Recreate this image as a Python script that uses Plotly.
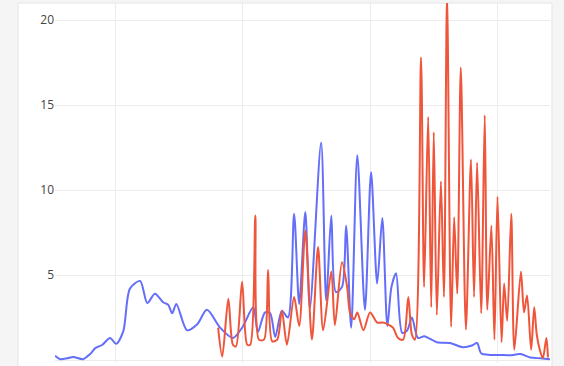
import plotly.graph_objects as go

# Blue series: week index and value
blue_x = [13.2, 14.2, 15.6, 16.8, 18.7, 20.1, 21.1, 22.5, 24.0, 25.2, 26.6, 27.9, 29.9,
          31.3, 32.8, 34.4, 35.4, 36.2, 37.0, 39.1, 41.1, 43.0, 45.6, 48.1, 49.9, 52.1,
          53.0, 54.4, 55.4, 56.4, 57.7, 58.9, 60.1, 61.1, 62.3, 63.2, 65.4, 66.4, 67.4,
          68.3, 69.5, 70.3, 71.3, 72.5, 74.0, 75.2, 76.4, 77.4, 78.4, 79.2, 80.1, 81.3,
          82.3, 83.2, 84.4, 85.6, 86.4, 88.1, 90.7, 93.2, 95.0, 96.0, 96.8, 98.5, 100.5,
          102.5, 104.5, 106.4, 108.4, 110.3]
blue_y = [0.25, 0.05, 0.1, 0.18, 0.05, 0.35, 0.7, 0.9, 1.3, 0.95, 1.7, 4.2, 4.65,
          3.35, 3.9, 3.4, 3.25, 2.75, 3.3, 1.75, 2.1, 2.95, 1.9, 1.3, 1.9, 3.1,
          1.65, 2.8, 2.75, 1.35, 2.9, 2.5, 8.6, 3.3, 8.7, 3.05, 12.8, 3.5, 8.5,
          4.0, 4.3, 7.9, 1.9, 12.05, 2.95, 11.05, 4.5, 8.35, 2.0, 4.3, 5.1, 1.6,
          1.75, 2.5, 1.3, 1.4, 1.3, 1.05, 1.0, 0.75, 0.85, 1.0, 0.4, 0.3, 0.3,
          0.28, 0.35, 0.15, 0.1, 0.05]

# Red series: week index and value
red_x = [45.2, 46.0, 47.2, 48.1, 48.7, 49.9, 50.9, 51.5, 52.5, 53.2, 54.2, 55.0, 55.8,
         56.8, 57.7, 58.7, 60.1, 61.1, 62.3, 63.6, 64.8, 65.8, 67.4, 68.1, 69.5, 70.5,
         71.1, 71.9, 72.5, 73.7, 75.0, 76.4, 77.5, 78.5, 79.5, 80.5, 81.5, 82.5, 83.2,
         83.8, 85.0, 85.6, 86.4, 87.0, 87.5, 88.1, 88.9, 89.5, 90.1, 90.9, 91.5, 92.1,
         92.8, 93.8, 94.8, 95.4, 96.0, 96.8, 97.5, 98.0, 98.8, 99.4, 100.0, 100.8,
         101.3, 101.9, 102.7, 103.3, 104.6, 105.2, 105.8, 106.6, 107.2, 107.7, 108.3,
         108.9, 109.6, 109.9]
red_y = [1.9, 0.2, 3.6, 0.9, 0.8, 4.6, 0.9, 0.9, 8.5, 1.2, 1.2, 5.3, 1.1,
         1.2, 2.9, 0.9, 3.7, 2.0, 7.6, 1.2, 6.65, 1.75, 5.2, 2.05, 5.75, 4.3,
         2.75, 2.4, 2.8, 1.75, 2.8, 2.2, 2.2, 2.1, 1.9, 1.3, 1.2, 3.7, 1.5,
         1.2, 17.8, 4.3, 14.3, 3.1, 13.4, 2.65, 10.5, 3.7, 21.5, 1.95, 8.4, 3.9,
         17.2, 1.8, 11.8, 3.7, 11.6, 2.75, 14.4, 2.95, 7.9, 1.2, 9.6, 1.05,
         4.5, 2.3, 8.6, 0.6, 5.2, 2.8, 3.8, 0.6, 3.1, 1.5, 0.6,
         0.1, 1.3, 0.15]

y_ticks = [0, 5, 10, 15, 20]
x_grid = [25, 50, 75, 100]

fig = go.Figure()
fig.add_trace(go.Scatter(x=blue_x, y=blue_y, mode="lines",
                         line=dict(color="#636efa", width=2, shape="spline", smoothing=0.8)))
fig.add_trace(go.Scatter(x=red_x, y=red_y, mode="lines",
                         line=dict(color="#EF553B", width=2, shape="spline", smoothing=0.8)))

# white card behind the plot
fig.add_shape(type="rect", xref="paper", yref="paper",
              x0=-0.0747, x1=1.004, y0=-0.2, y1=1.0,
              fillcolor="white", line=dict(color="#e4e4e4", width=1), layer="below")

fig.update_layout(
    width=564, height=366,
    margin=dict(l=55, r=14, t=3, b=3),
    showlegend=False,
    paper_bgcolor="#f5f5f5",
    plot_bgcolor="white",
    font=dict(family="Open Sans", size=12, color="#444"),
    xaxis=dict(range=[13.2, 110.3], tickvals=x_grid, showticklabels=False,
               showgrid=True, gridcolor="#ececec", gridwidth=1,
               zeroline=False, showline=False, ticks=""),
    yaxis=dict(range=[-0.176, 21], tickvals=y_ticks, showgrid=True,
               gridcolor="#ececec", gridwidth=1, zeroline=False,
               showline=False, ticks=""),
)

fig.write_html("out.html")
